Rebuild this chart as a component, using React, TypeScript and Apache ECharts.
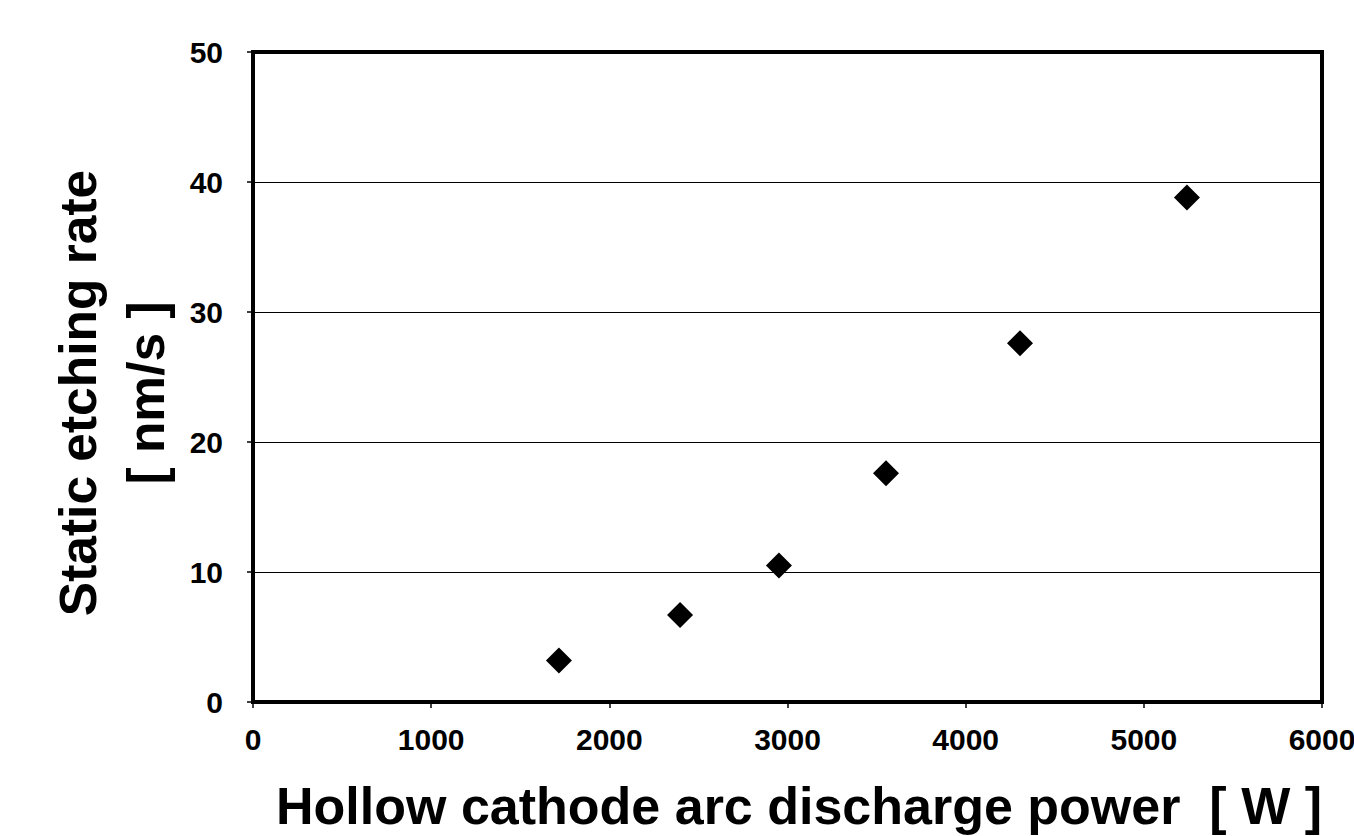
import React, { useEffect, useRef } from "react";
import * as echarts from "echarts";

const powerW = [1717, 2397, 2952, 3553, 4305, 5242];
const etchRate = [3.2, 6.7, 10.5, 17.6, 27.6, 38.8];
const xTitle = "Hollow cathode arc discharge power  [ W ]";
const yTitle = "Static etching rate\n[ nm/s ]";

export default function App() {
  const ref = useRef<HTMLDivElement>(null);
  useEffect(() => {
    document.body.style.margin = "0";
    const chart = echarts.init(ref.current!, null, { renderer: "svg" });
    const font = "Liberation Sans, Arial, sans-serif";
    chart.setOption({
      animation: false,
      backgroundColor: "#fff",
      grid: {
        left: 253,
        top: 52,
        width: 1069,
        height: 650,
        show: true,
        borderColor: "#000",
        borderWidth: 4,
        backgroundColor: "transparent",
        outerBoundsMode: "none",
        containLabel: false,
      },
      graphic: [
        {
          type: "text",
          x: 112,
          y: 393,
          rotation: Math.PI / 2,
          style: {
            text: yTitle,
            fontFamily: font,
            fontWeight: "bold",
            fontSize: 51.5,
            lineHeight: 68,
            fill: "#000",
            align: "center",
            verticalAlign: "middle",
          },
        },
      ],
      xAxis: {
        type: "value",
        min: 0,
        max: 6000,
        interval: 1000,
        name: xTitle,
        nameLocation: "middle",
        nameGap: 78,
        nameTextStyle: { fontFamily: font, fontWeight: "bold", fontSize: 52, color: "#000", padding: [0, 0, 0, 23] },
        axisLine: { show: true, lineStyle: { color: "#000", width: 4 } },
        axisTick: { show: true, inside: false, length: 6, lineStyle: { color: "#000", width: 1.5 } },
        axisLabel: { fontFamily: font, fontWeight: "bold", fontSize: 30, color: "#000", margin: 22, formatter: (v: number) => String(v) },
        splitLine: { show: false },
      },
      yAxis: {
        type: "value",
        min: 0,
        max: 50,
        interval: 10,
        axisLine: { show: true, lineStyle: { color: "#000", width: 4 } },
        axisTick: { show: true, inside: false, length: 6, lineStyle: { color: "#000", width: 1.5 } },
        axisLabel: { fontFamily: font, fontWeight: "bold", fontSize: 30, color: "#000", margin: 30, formatter: (v: number) => String(v) },
        splitLine: { show: true, lineStyle: { color: "#000", width: 1.2 } },
      },
      series: [
        {
          type: "scatter",
          data: powerW.map((x, i) => [x, etchRate[i]]),
          symbol: "diamond",
          symbolSize: 26,
          itemStyle: { color: "#000", opacity: 1 },
        },
      ],
    });
    return () => chart.dispose();
  }, []);
  return <div ref={ref} style={{ position: "fixed", left: 0, top: 0, width: 1354, height: 836 }} />;
}
